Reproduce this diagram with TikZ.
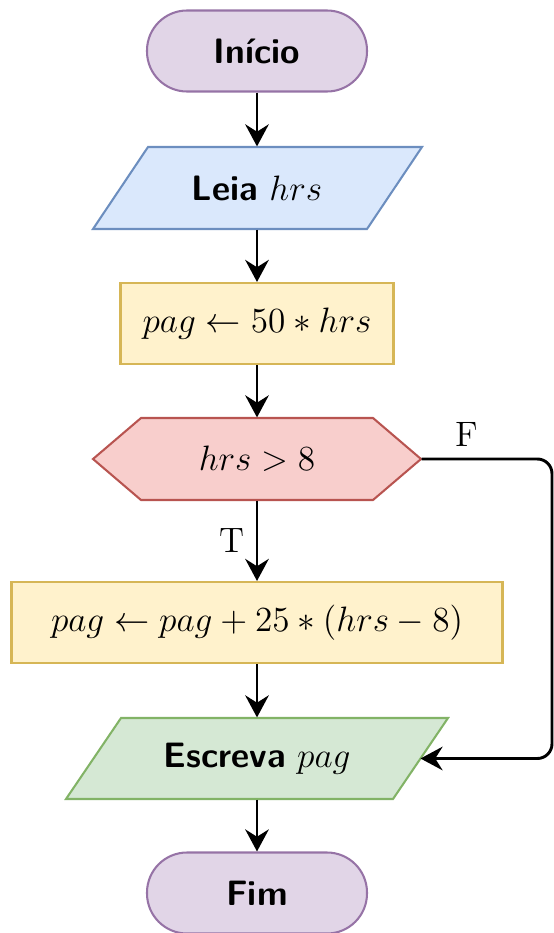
\documentclass[tikz,border=0pt]{standalone}
\usetikzlibrary{arrows.meta,calc}
\definecolor{purF}{HTML}{E1D5E7}
\definecolor{purS}{HTML}{9673A6}
\definecolor{bluF}{HTML}{DAE8FC}
\definecolor{bluS}{HTML}{6C8EBF}
\definecolor{yelF}{HTML}{FFF2CC}
\definecolor{yelS}{HTML}{D6B656}
\definecolor{redF}{HTML}{F8CECC}
\definecolor{redS}{HTML}{B85450}
\definecolor{grnF}{HTML}{D5E8D4}
\definecolor{grnS}{HTML}{82B366}
\begin{document}
\begin{tikzpicture}[x=0.34pt,y=-0.34pt, font=\large,
  shp/.style={line width=0.7pt},
  term/.style={shp, draw=purS, fill=purF, rounded corners=40*0.34pt,
    minimum width=220*0.34pt, minimum height=81*0.34pt, inner sep=0pt},
  proc/.style={shp, draw=yelS, fill=yelF, minimum height=81*0.34pt, inner sep=0pt},
  ghost/.style={draw=none, inner sep=0pt},
  arr/.style={line width=1pt, -{Stealth[length=7.5pt,width=8pt,inset=2.5pt]}},
  lab/.style={inner sep=0pt}
]
\useasboundingbox (0,0) rectangle (554,933);

% polygon shapes
\draw[shp, draw=bluS, fill=bluF] (148,147) -- (422,147) -- (367,229) -- (93,229) -- cycle;
\draw[shp, draw=redS, fill=redF] (93,459) -- (141,418) -- (373,418) -- (421,459) -- (373,500) -- (141,500) -- cycle;
\draw[shp, draw=grnS, fill=grnF] (121,718) -- (448,718) -- (393,799) -- (66,799) -- cycle;

% nodes
\node[term] (start) at (257,51) {\textsf{\textbf{Início}}};
\node[ghost, minimum width=329*0.34pt, minimum height=82*0.34pt] (leia) at (257,188) {\textsf{\textbf{Leia}} $hrs$};
\node[proc, minimum width=273*0.34pt] (p1) at (257,323.5) {$pag \leftarrow 50 * hrs$};
\node[ghost, minimum width=328*0.34pt, minimum height=82*0.34pt] (dec) at (257,459) {$hrs > 8$};
\node[proc, minimum width=491*0.34pt] (p2) at (257,622.5) {$pag \leftarrow pag + 25 * (hrs - 8)$};
\node[ghost, minimum width=382*0.34pt, minimum height=81*0.34pt] (esc) at (257,758.5) {\textsf{\textbf{Escreva}} $pag$};
\node[term] (fim) at (257,893) {\textsf{\textbf{Fim}}};
\coordinate (escR) at (420.5,758.5);
\coordinate (cornA) at (552,459);
\coordinate (cornB) at (552,758.5);

% connectors
\draw[arr] (start) -- (leia);
\draw[arr] (leia) -- (p1);
\draw[arr] (p1) -- (dec);
\draw[arr] (dec) -- (p2);
\draw[arr] (p2) -- (esc);
\draw[arr] (esc) -- (fim);
\draw[arr, rounded corners=5pt] (dec.east) -- (cornA) -- (cornB) -- (escR);

% labels
\node[lab] (tlab) at (232,541) {T};
\node[lab] (flab) at (467,434) {F};
\end{tikzpicture}
\end{document}
